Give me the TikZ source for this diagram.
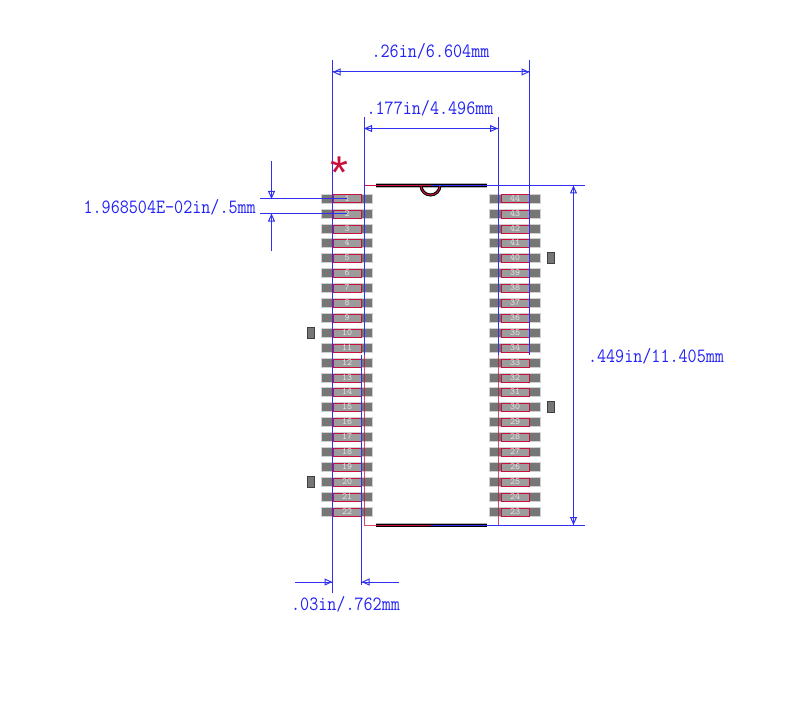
\documentclass[tikz,border=0pt]{standalone}
\usepackage{fontspec}
\usetikzlibrary{arrows.meta,calc}
\newfontfamily\starfont{Liberation Sans}
\definecolor{dimblue}{HTML}{3030F0}
\definecolor{dimtextblue}{HTML}{2222F5}
\definecolor{padred}{HTML}{C8103C}
\definecolor{paddark}{HTML}{767676}
\definecolor{padlight}{HTML}{9C9C9C}
\definecolor{padhalo}{HTML}{D0D0D0}
\definecolor{pinlabel}{HTML}{E4E4E4}
\newcommand{\tallsc}[1]{\scalebox{1}[1.15]{#1}}
\tikzset{
  dimline/.style={draw=dimblue,line width=1pt},
  dimarrow/.style={dimline,postaction={draw=dimblue,line width=1pt,arrows={#1}}},
  dimarrow/.default={<->},
  >={Triangle[open,length=8pt,width=7pt]},
  dimtext/.style={text=dimtextblue,inner sep=0pt,font=\ttfamily\fontsize{17.6}{18}\selectfont\addfontfeature{FakeBold=0.25}},
  padbody/.style={fill=paddark,draw=padhalo,line width=0.7pt,minimum width=51pt,minimum height=9.6pt,inner sep=0pt,rectangle},
  padface/.style={fill=padlight,draw=padred,line width=1pt,minimum width=28pt,minimum height=8pt,inner sep=0pt,outer sep=0pt,rectangle},
  pintext/.style={text=pinlabel,inner sep=0pt,font=\ttfamily\fontsize{9.5}{9.5}\selectfont},
  marker/.style={fill=paddark,draw=black!75,line width=1pt,minimum width=7pt,minimum height=11pt,inner sep=0pt,rectangle},
  outlinered/.style={draw=padred,line width=1pt},
  barblack/.style={draw=black,line width=3pt},
  barhalo/.style={draw=black!30,line width=4.4pt},
}
\begin{document}
\begin{tikzpicture}[x=1pt,y=-1pt]
\useasboundingbox (0,0) rectangle (800,714);
% pads
\foreach \n in {1,...,22}{
  \pgfmathsetmacro{\yy}{round(198.8+(\n-1)*14.9)}
  \pgfmathtruncatemacro{\m}{45-\n}
  \node[padbody] (lbody\n) at (347,\yy) {};
  \node[padface] (lface\n) at (347,\yy) {};
  \node[pintext] (lnum\n) at (347,\yy) {\n};
  \node[padbody] (rbody\n) at (515,\yy) {};
  \node[padface] (rface\n) at (515,\yy) {};
  \node[pintext] (rnum\n) at (515,\yy) {\m};
}
% markers
\node[marker] (m1) at (311,333) {};
\node[marker] (m2) at (311,482) {};
\node[marker] (m3) at (551,258) {};
\node[marker] (m4) at (551,407) {};
% body corners and reference points
\coordinate (tl) at (364,185.5);
\coordinate (tr) at (498,185.5);
\coordinate (bl) at (364,525);
\coordinate (br) at (498,525);
\coordinate (barTL) at (375.5,185.5);
\coordinate (barTR) at (486.5,185.5);
\coordinate (barBL) at (375.5,525);
\coordinate (barBR) at (486.5,525);
\coordinate (nL) at (421,185.5);
\coordinate (nC) at (431,185.5);
\coordinate (nCb) at (431,525);
% red outline
\draw[outlinered] (tl) -- (barTL);
\draw[outlinered,opacity=.75] (tl) -- (bl) -- (barBL);
\draw[outlinered,opacity=.75] (tr) -- (br) -- (barBR);
% end bars and notch
\draw[barhalo] (barTL) -- (barTR);
\draw[barhalo] (barBL) -- (barBR);
\draw[barblack] (barTL) -- (barTR);
\draw[barblack] (barBL) -- (barBR);
\draw[barblack] (nL) arc[start angle=180,end angle=360,radius=9.5pt];
\draw[draw=padred,line width=1pt] (nL) arc[start angle=180,end angle=360,radius=9.5pt];
\draw[outlinered] (barTL) -- (nC);
\draw[outlinered] (barBL) -- (nCb);
% extension lines
\coordinate (a1) at (332.5,60);   \coordinate (a2) at (332.5,593);
\coordinate (b1) at (529.5,60);   \coordinate (b2) at (529.5,355);
\coordinate (c1) at (364,117);    \coordinate (c2) at (364,355);
\coordinate (d1) at (498,117);    \coordinate (d2) at (498,355);
\coordinate (e1) at (361.5,355);  \coordinate (e2) at (361.5,585);
\coordinate (f1) at (585,185.5);  \coordinate (f2) at (585,525);
\coordinate (g1) at (260,199);    \coordinate (g2) at (347,199);
\coordinate (h1) at (260,213.5);  \coordinate (h2) at (347,213.5);
\draw[dimline] (a1) -- (a2);
\draw[dimline] (b1) -- (b2);
\draw[dimline] (c1) -- (c2);
\draw[dimline] (d1) -- (d2);
\draw[dimline] (e1) -- (e2);
\draw[dimline] (nC) -- (f1);
\draw[dimline] (nCb) -- (f2);
\draw[dimline] (g1) -- (g2);
\draw[dimline] (h1) -- (h2);
% dimension arrows
\coordinate (w1l) at (332.5,72);  \coordinate (w1r) at (529.5,72);
\coordinate (w2l) at (364,128.5); \coordinate (w2r) at (498,128.5);
\coordinate (h3t) at (573.5,185.5); \coordinate (h3b) at (573.5,525);
\draw[dimarrow] (w1l) -- (w1r);
\draw[dimarrow] (w2l) -- (w2r);
\draw[dimarrow] (h3t) -- (h3b);
\coordinate (p1s) at (271.5,161);  \coordinate (p1e) at (271.5,199);
\coordinate (p2s) at (271.5,251);  \coordinate (p2e) at (271.5,213.5);
\draw[dimarrow={->}] (p1s) -- (p1e);
\draw[dimarrow={->}] (p2s) -- (p2e);
\coordinate (q1s) at (295,582);  \coordinate (q1e) at (332.5,582);
\coordinate (q2s) at (399,582);  \coordinate (q2e) at (361.5,582);
\draw[dimarrow={->}] (q1s) -- (q1e);
\draw[dimarrow={->}] (q2s) -- (q2e);
% labels
\node[dimtext] (t1) at (430.5,51) {\tallsc{.26in/6.604mm}};
\node[dimtext] (t2) at (430,108) {\tallsc{.177in/4.496mm}};
\node[dimtext,anchor=east] (t3) at (256,207) {\tallsc{1.968504E-02in/.5mm}};
\node[dimtext] (t4) at (656,356) {\tallsc{.449in/11.405mm}};
\node[dimtext] (t5) at (345.5,604) {\tallsc{.03in/.762mm}};
\node[inner sep=0pt,text=padred,font=\starfont\fontsize{46}{46}\selectfont] (star) at (339.5,172) {\raisebox{0pt}[33.5pt][-19.8pt]{*}};
\end{tikzpicture}
\end{document}
